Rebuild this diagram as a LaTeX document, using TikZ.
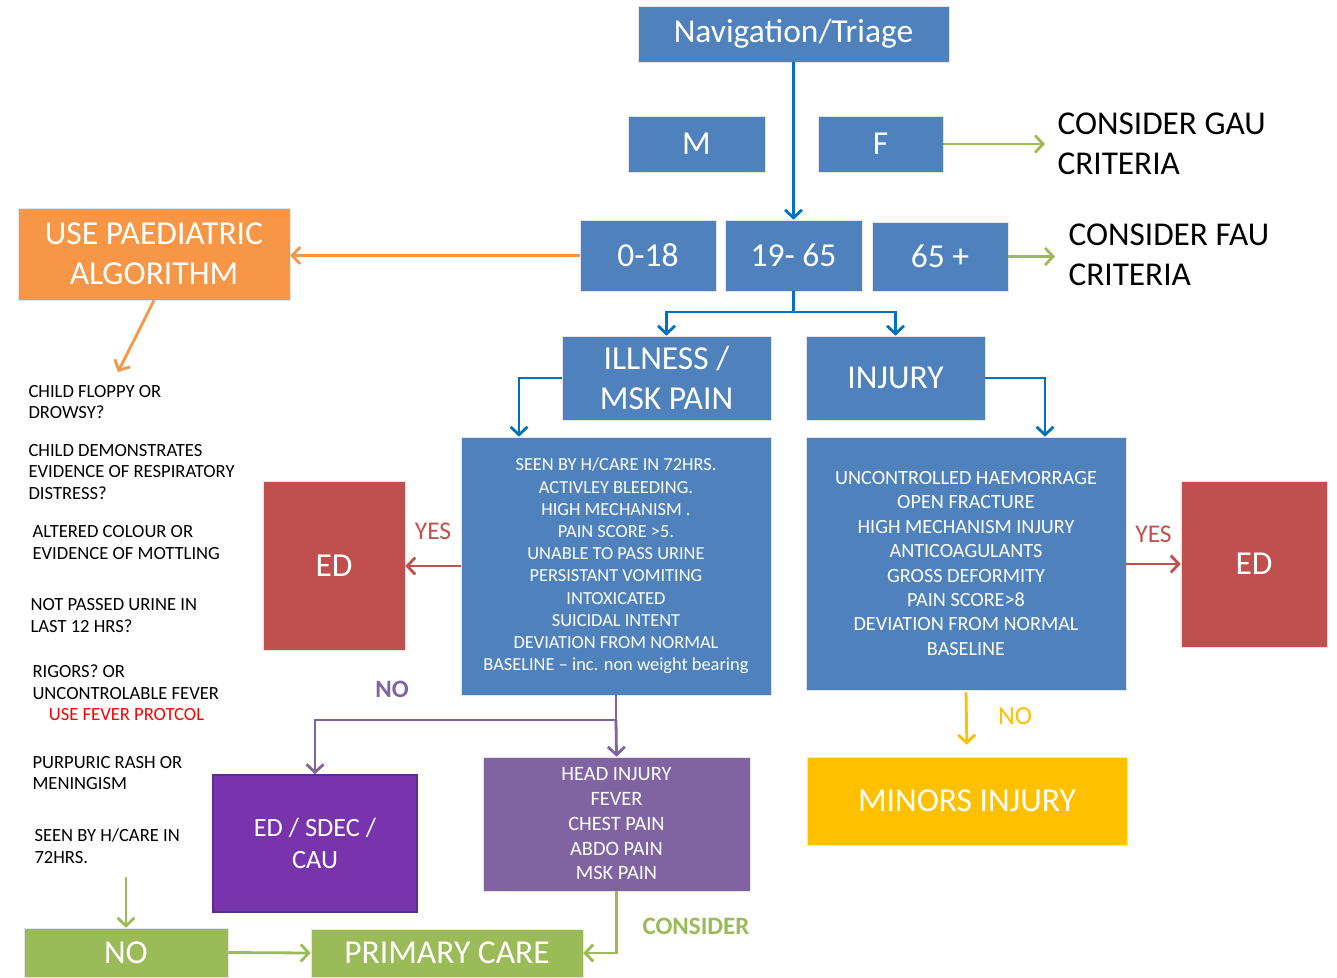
\documentclass[tikz,border=0pt]{standalone}
\usepackage{fontspec}
\setmainfont{Carlito}
\usetikzlibrary{arrows.meta}
\definecolor{boxblue}{HTML}{4F81BD}
\definecolor{lineblue}{HTML}{0070C0}
\definecolor{paedorange}{HTML}{F79646}
\definecolor{okgreen}{HTML}{9BBB59}
\definecolor{edred}{HTML}{C0504D}
\definecolor{listpurple}{HTML}{8064A2}
\definecolor{deeppurple}{HTML}{7834AD}
\definecolor{minoryellow}{HTML}{FFC000}
\begin{document}
\begin{tikzpicture}[x=1pt, y=-1pt, >={Straight Barb[length=8pt,width=17pt]},
    box/.style={rectangle, inner sep=0pt, align=center, text=white, draw=white!80!gray, line width=0.6pt},
    big/.style={font=\fontsize{33.5}{40}\selectfont},
    small/.style={font=\fontsize{18.4}{22.2}\selectfont},
    question/.style={anchor=west, align=left, font=\fontsize{18.6}{21.8}\selectfont},
    link/.style={->, line width=2.8pt}]
    \useasboundingbox[fill=white] (0,0) rectangle (1337,977);

    % Triage and age bands
    \node[box, big, fill=boxblue, minimum width=311pt, minimum height=56pt] (nav) at (793.5,34) {Navigation/Triage};
    \node[box, big, fill=boxblue, minimum width=137pt, minimum height=56pt] (m) at (696.5,144) {M};
    \node[box, big, fill=boxblue, minimum width=125pt, minimum height=56pt] (f) at (880.5,144) {F};
    \node[anchor=west, align=left, font=\fontsize{33.3}{40}\selectfont] (gau) at (1054,144) {CONSIDER GAU\\CRITERIA};
    \node[box, big, fill=boxblue, minimum width=136pt, minimum height=71pt] (agea) at (648,255.5) {0-18};
    \node[box, big, fill=boxblue, minimum width=137pt, minimum height=71pt] (ageb) at (793.5,255.5) {19- 65};
    \node[box, big, fill=boxblue, minimum width=136pt, minimum height=69pt] (agec) at (940,256.5) {65 +};
    \node[anchor=west, align=left, font=\fontsize{33.3}{40}\selectfont] (fau) at (1065,255) {CONSIDER FAU\\CRITERIA};
    \node[box, big, fill=paedorange, minimum width=272pt, minimum height=92pt] (paed) at (154,254) {USE PAEDIATRIC\\ALGORITHM};

    \draw[link, lineblue] (nav) -- (ageb);
    \draw[link, okgreen] (f.east) -- (1045,144);
    \draw[link, okgreen] (agec.east) -- (1055,256.5);
    \draw[link, paedorange] (agea.west) -- (agea.west -| paed.east);
    \coordinate (paedq) at (118,372);
    \draw[link, paedorange] (paed.south) -- (paedq);

    % Paediatric questions
    \node[question] (q1) at (25,402) {CHILD FLOPPY OR\\DROWSY?};
    \node[question] (q2) at (25,472) {CHILD DEMONSTRATES\\EVIDENCE OF RESPIRATORY\\DISTRESS?};
    \node[question] (q3) at (29,542.5) {ALTERED COLOUR OR\\EVIDENCE OF MOTTLING};
    \node[question] (q4) at (27,615.5) {NOT PASSED URINE IN\\LAST 12 HRS?};
    \node[question] (q5) at (29,682) {RIGORS? OR\\UNCONTROLABLE FEVER};
    \node[question, anchor=center, text=red] (q5b) at (126.5,715) {USE FEVER PROTCOL};
    \node[question] (q6) at (29,773) {PURPURIC RASH OR\\MENINGISM};
    \node[question] (q7) at (31,846) {SEEN BY H/CARE IN\\72HRS.};

    % Illness / injury
    \node[box, big, fill=boxblue, minimum width=209pt, minimum height=84pt] (illness) at (666.5,378) {ILLNESS /\\MSK PAIN};
    \node[box, big, fill=boxblue, minimum width=179pt, minimum height=84pt] (injury) at (895.5,378) {INJURY};
    \coordinate (split) at (793.5,312);
    \draw[line width=2.8pt, lineblue] (ageb.south) -- (split);
    \draw[link, lineblue] (split) -| (illness.north);
    \draw[link, lineblue] (split) -| (injury.north);

    \node[box, small, fill=boxblue, minimum width=310pt, minimum height=258pt] (illcrit) at (616,566) {SEEN BY H/CARE IN 72HRS.\\ACTIVLEY BLEEDING.\\HIGH MECHANISM .\\PAIN SCORE >5.\\UNABLE TO PASS URINE\\PERSISTANT VOMITING\\INTOXICATED\\SUICIDAL INTENT\\DEVIATION FROM NORMAL\\BASELINE -- inc. non weight bearing};
    \node[box, fill=boxblue, font=\fontsize{20.2}{24.4}\selectfont, minimum width=320pt, minimum height=253pt] (injcrit) at (966,563.5) {UNCONTROLLED HAEMORRAGE\\OPEN FRACTURE\\HIGH MECHANISM INJURY\\ANTICOAGULANTS\\GROSS DEFORMITY\\PAIN SCORE>8\\DEVIATION FROM NORMAL\\BASELINE};
    \draw[link, lineblue] (illness.west) -| ([xshift=-97pt]illcrit.north);
    \draw[link, lineblue] (injury.east) -| ([xshift=79pt]injcrit.north);

    % Emergency department
    \node[box, big, fill=edred, minimum width=142pt, minimum height=169pt] (edl) at (334,565.5) {ED};
    \node[box, big, fill=edred, minimum width=146pt, minimum height=166pt] (edr) at (1254,564) {ED};
    \draw[link, edred] (illcrit.west) -- (illcrit.west -| edl.east)
        node[midway, above=25pt, inner sep=0pt, font=\fontsize{25.5}{30}\selectfont, text=edred] {YES};
    \draw[link, edred] (injcrit.east |- edr.west) -- (edr.west)
        node[midway, above=20pt, inner sep=0pt, font=\fontsize{25.5}{30}\selectfont, text=edred] {YES};

    % Not urgent
    \node[font=\bfseries\fontsize{25}{30}\selectfont, text=listpurple] (nol) at (392,689) {NO};
    \node[box, fill=deeppurple, draw=deeppurple!80!black, line width=1.5pt, font=\fontsize{26.4}{32}\selectfont, minimum width=204pt, minimum height=137pt] (sdec) at (315,843.5) {ED / SDEC /\\CAU};
    \node[box, fill=listpurple, font=\fontsize{20.4}{24.75}\selectfont, minimum width=267pt, minimum height=134pt] (head) at (616.5,824) {HEAD INJURY\\FEVER\\CHEST PAIN\\ABDO PAIN\\MSK PAIN};
    \coordinate (split2) at (616,720);
    \draw[line width=2.8pt, listpurple] (illcrit.south) -- (split2);
    \draw[link, listpurple] (split2) -| (sdec.north);
    \draw[link, listpurple] (split2) -- (head.north);

    \node[box, big, fill=minoryellow, minimum width=320pt, minimum height=88pt] (minors) at (967,801) {MINORS INJURY};
    \draw[link, minoryellow, shorten <=2pt, shorten >=12pt] (injcrit.south) -- (minors.north);
    \node[font=\fontsize{26}{30}\selectfont, text=minoryellow] (noy) at (1015,716) {NO};

    % Primary care
    \node[box, big, fill=okgreen, minimum width=204pt, minimum height=49pt] (no) at (126,952.5) {NO};
    \node[box, big, fill=okgreen, minimum width=272pt, minimum height=48pt] (primary) at (447,953) {PRIMARY CARE};
    \coordinate (q7end) at (126,877);
    \draw[link, okgreen] (q7end) -- (no.north);
    \draw[link, okgreen] (no.east) -- (primary.west);
    \draw[link, okgreen] (head.south) |- (primary.east);
    \node[font=\bfseries\fontsize{25}{30}\selectfont, text=okgreen] (cons) at (696,926) {CONSIDER};
\end{tikzpicture}
\end{document}
